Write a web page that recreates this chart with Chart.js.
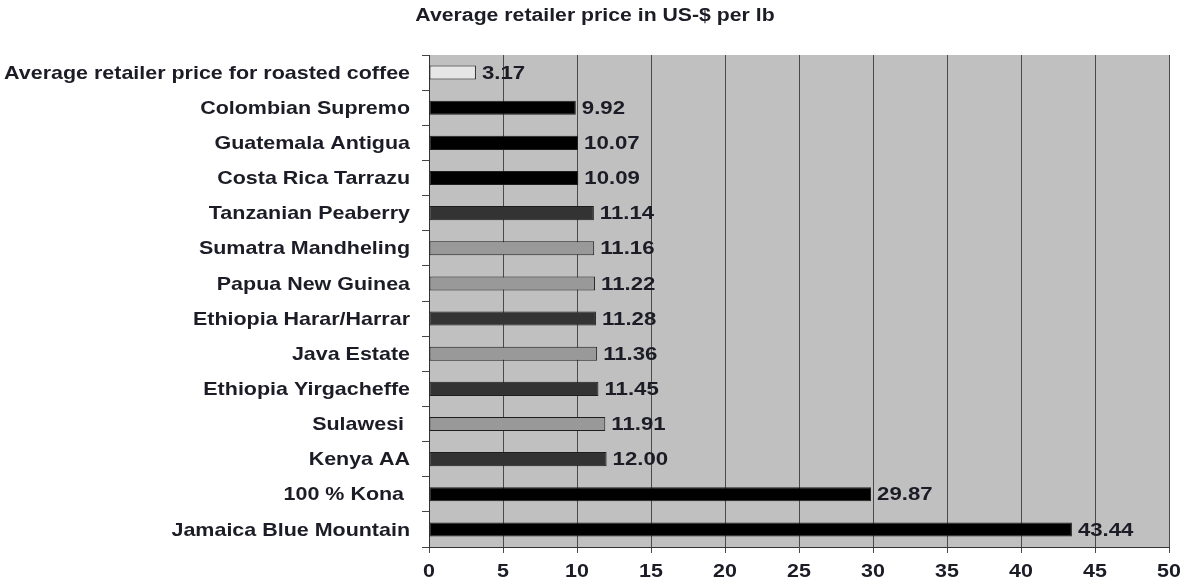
<!DOCTYPE html>
<html>
<head>
<meta charset="utf-8">
<title>Coffee prices</title>
<script src="https://cdn.jsdelivr.net/npm/chart.js@4"></script>
<style>
  html, body { margin: 0; padding: 0; background: #fff; }
  canvas { display: block; }
</style>
</head>
<body>
<canvas id="myChart" width="1192" height="587"></canvas>
<script>
// Coffee origins and their average retailer price (US-$ per lb)
const origins = [
    'Average retailer price for roasted coffee',
    'Colombian Supremo',
    'Guatemala Antigua',
    'Costa Rica Tarrazu',
    'Tanzanian Peaberry',
    'Sumatra Mandheling',
    'Papua New Guinea',
    'Ethiopia Harar/Harrar',
    'Java Estate',
    'Ethiopia Yirgacheffe',
    'Sulawesi ',
    'Kenya AA',
    '100 % Kona ',
    'Jamaica Blue Mountain'
]
const prices = [3.17, 9.92, 10.07, 10.09, 11.14, 11.16, 11.22, 11.28, 11.36, 11.45, 11.91, 12.00, 29.87, 43.44]
const xTicks = [0, 5, 10, 15, 20, 25, 30, 35, 40, 45, 50]
const chartTitle = 'Average retailer price in US-$ per lb'

// shade of each bar
const barColors = ['#e6e6e6', '#000000', '#000000', '#000000', '#333333', '#999999', '#999999',
    '#333333', '#999999', '#333333', '#999999', '#333333', '#000000', '#000000']

const myChart = document.getElementById('myChart').getContext('2d')
const textColor = '#1c1c26'

// text is a little wider than the plain font, so stretch it sideways
function drawText(c, text, x, y, align, size, stretch) {
    c.save()
    c.font = `bold ${size}px "Liberation Sans"`
    c.fillStyle = textColor
    c.textAlign = align
    c.textBaseline = 'middle'
    c.translate(x, y)
    c.scale(stretch, 1)
    c.fillText(text, 0, 0)
    c.restore()
}

// grey plot area behind the bars
const plotBackground = {
    id: 'plotBackground',
    beforeDraw(chart) {
        const a = chart.chartArea
        const c = chart.ctx
        c.save()
        c.fillStyle = '#c0c0c0'
        c.fillRect(a.left, a.top, a.right - a.left, a.bottom - a.top)
        c.restore()
    }
}

// title, axis labels and the value after each bar
const chartText = {
    id: 'chartText',
    afterDraw(chart) {
        const c = chart.ctx
        const a = chart.chartArea
        const xs = chart.scales.x
        const ys = chart.scales.y

        drawText(c, chartTitle, 595, 16, 'center', 18, 1.18)

        origins.forEach((name, i) => {
            drawText(c, name, a.left - 19, ys.getPixelForTick(i) + 1, 'right', 18.5, 1.16)
        })

        xTicks.forEach(v => {
            drawText(c, String(v), xs.getPixelForValue(v), a.bottom + 25, 'center', 18.5, 1.16)
        })

        chart.getDatasetMeta(0).data.forEach((bar, i) => {
            drawText(c, prices[i].toFixed(2), bar.x + 6, bar.y + 1, 'left', 18.5, 1.2)
        })
    }
}

new Chart(myChart, {
    type: 'bar',
    data: {
        labels: origins,
        datasets: [{
            data: prices,
            backgroundColor: barColors,
            borderColor: '#1e1e1e',
            borderWidth: 1,
            borderSkipped: false,
            barPercentage: 0.4,
            categoryPercentage: 1
        }]
    },
    options: {
        indexAxis: 'y',
        responsive: false,
        animation: false,
        layout: { padding: { top: 55, right: 23, left: 0, bottom: 0 } },
        plugins: {
            legend: { display: false },
            tooltip: { enabled: false },
            title: { display: false }
        },
        scales: {
            x: {
                min: 0,
                max: 50,
                afterBuildTicks(scale) {
                    scale.ticks = xTicks.map(v => ({ value: v }))
                },
                afterFit(scale) { scale.height = 40 },
                grid: {
                    color: '#4a4a4a',
                    lineWidth: 1,
                    tickLength: 6,
                    drawTicks: true
                },
                border: { color: '#333333', width: 1 },
                ticks: { display: false }
            },
            y: {
                afterFit(scale) { scale.width = 429 },
                grid: {
                    display: true,
                    drawOnChartArea: false,
                    tickLength: 7,
                    color: '#444444',
                    offset: true
                },
                border: { color: '#333333', width: 1 },
                ticks: { display: false, autoSkip: false }
            }
        }
    },
    plugins: [plotBackground, chartText]
})
</script>
</body>
</html>
